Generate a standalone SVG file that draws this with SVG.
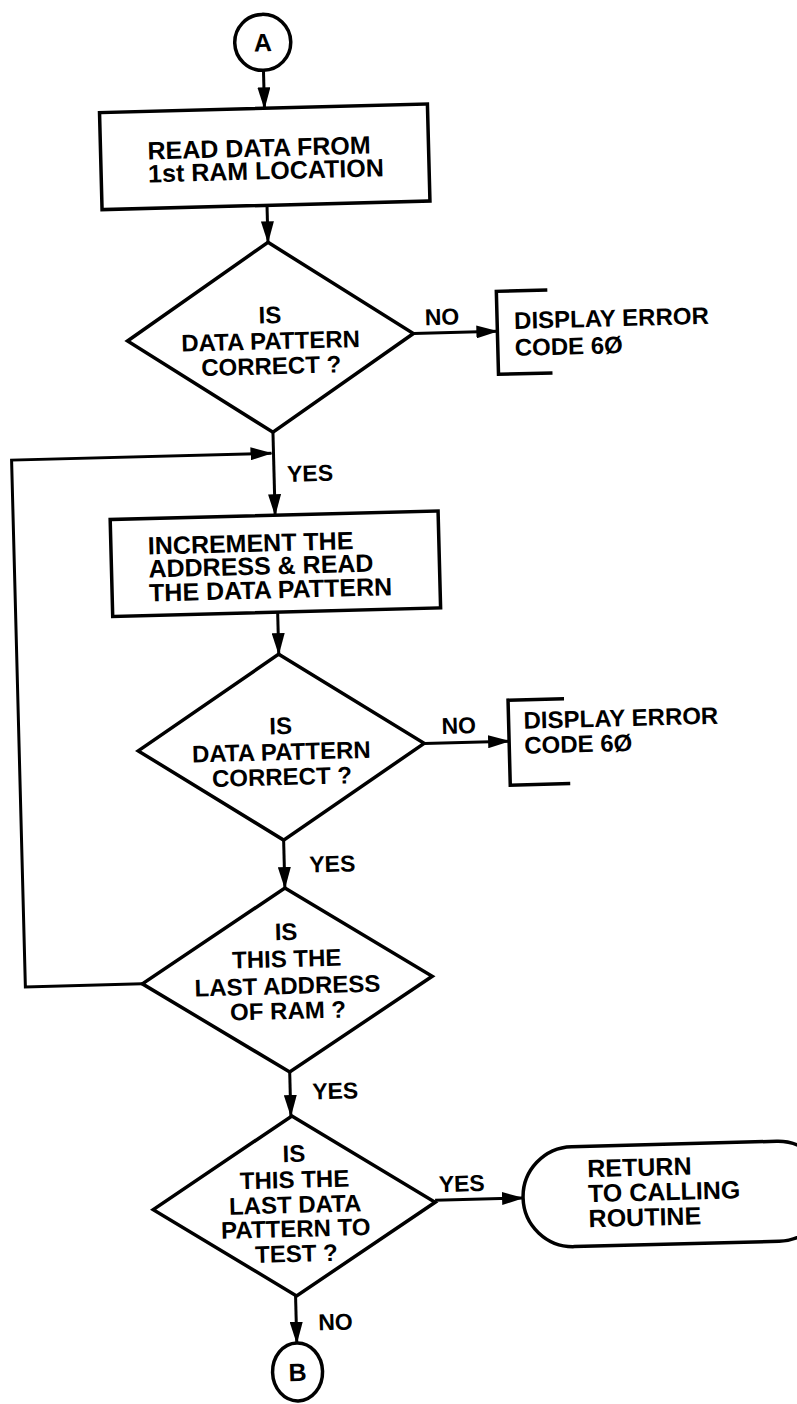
<svg xmlns="http://www.w3.org/2000/svg" width="797" height="1404" viewBox="0 0 797 1404">
<defs>
<style>
.s{fill:#fff;stroke:#000;stroke-width:3.5;stroke-linejoin:miter}
.b{fill:none;stroke:#000;stroke-width:3.5}
.c{fill:none;stroke:#000;stroke-width:3}
text{font-family:"Liberation Sans",Arial,Helvetica,sans-serif;font-weight:bold;fill:#000}
.t{font-size:25px}
.d{font-size:24px;text-anchor:middle}
.e{font-size:24px}
.m{text-anchor:middle}
.l{font-size:23px}
</style>
<marker id="ah" markerWidth="22" markerHeight="13" refX="21" refY="6.5" orient="auto" markerUnits="userSpaceOnUse"><path d="M0,0 L22,6.5 L0,13 z" fill="#000"/></marker>
</defs>
<rect width="797" height="1404" fill="#fff"/>
<g transform="rotate(-1.5 400 700)">
<g id="connectors">
<line class="c" x1="280" y1="67" x2="280" y2="105" marker-end="url(#ah)"/>
<line class="c" x1="280" y1="202" x2="280" y2="239" marker-end="url(#ah)"/>
<line class="c" x1="423" y1="334" x2="507" y2="334" marker-end="url(#ah)"/>
<line class="c" x1="280" y1="429" x2="280" y2="512" marker-end="url(#ah)"/>
<polyline class="c" points="135,977 18,977 18,450 278,450" marker-end="url(#ah)"/>
<line class="c" x1="280" y1="609" x2="280" y2="651" marker-end="url(#ah)"/>
<line class="c" x1="423" y1="744" x2="508" y2="744" marker-end="url(#ah)"/>
<line class="c" x1="280" y1="837" x2="280" y2="885" marker-end="url(#ah)"/>
<line class="c" x1="280" y1="1069" x2="280" y2="1113" marker-end="url(#ah)"/>
<line class="c" x1="422" y1="1201" x2="510" y2="1201" marker-end="url(#ah)"/>
<line class="c" x1="280" y1="1293" x2="280" y2="1340" marker-end="url(#ah)"/>
<text class="l m" x="452" y="326">NO</text>
<text class="l" x="293" y="479">YES</text>
<text class="l m" x="458" y="735">NO</text>
<text class="l" x="305" y="870">YES</text>
<text class="l" x="302" y="1097">YES</text>
<text class="l m" x="449" y="1193">YES</text>
<text class="l" x="302" y="1328">NO</text>
</g>
<g id="connA">
<circle class="s" cx="280" cy="39" r="28"/>
<text class="t m" x="280" y="48">A</text>
</g>
<g id="readFirst">
<rect class="s" x="115" y="105" width="328" height="97"/>
<text class="t" x="162" y="153">READ DATA FROM</text>
<text class="t" x="162" y="176">1st RAM LOCATION</text>
</g>
<g id="check1">
<polygon class="s" points="280,239 423,334 280,429 137,334"/>
<text class="d" x="280" y="320">IS</text>
<text class="d" x="280" y="346">DATA PATTERN</text>
<text class="d" x="280" y="371">CORRECT ?</text>
</g>
<g id="error1">
<path class="b" d="M558,294 L507,294 L507,377 L561,377"/>
<text class="e" x="524" y="332">DISPLAY ERROR</text>
<text class="e" x="524" y="359">CODE 6Ø</text>
</g>
<g id="increment">
<rect class="s" x="115" y="512" width="328" height="97"/>
<text class="t" x="152" y="548">INCREMENT THE</text>
<text class="t" x="152" y="571">ADDRESS &amp; READ</text>
<text class="t" x="152" y="595">THE DATA PATTERN</text>
</g>
<g id="check2">
<polygon class="s" points="280,651 423,744 280,837 137,744"/>
<text class="d" x="280" y="731">IS</text>
<text class="d" x="280" y="757">DATA PATTERN</text>
<text class="d" x="280" y="782">CORRECT ?</text>
</g>
<g id="error2">
<path class="b" d="M564,703 L508,703 L508,788 L568,788"/>
<text class="e" x="523" y="732">DISPLAY ERROR</text>
<text class="e" x="523" y="757">CODE 6Ø</text>
</g>
<g id="lastAddress">
<polygon class="s" points="280,885 425,977 280,1069 135,977"/>
<text class="d" x="280" y="937">IS</text>
<text class="d" x="280" y="964">THIS THE</text>
<text class="d" x="280" y="991">LAST ADDRESS</text>
<text class="d" x="280" y="1016">OF RAM ?</text>
</g>
<g id="lastPattern">
<polygon class="s" points="281,1113 422,1203 281,1293 140,1203"/>
<text class="d" x="282" y="1159">IS</text>
<text class="d" x="282" y="1185">THIS THE</text>
<text class="d" x="282" y="1210">LAST DATA</text>
<text class="d" x="282" y="1234">PATTERN TO</text>
<text class="d" x="282" y="1259">TEST ?</text>
</g>
<g id="return">
<rect class="s" x="510" y="1151" width="305" height="100" rx="50" ry="50"/>
<text class="t" x="575" y="1182">RETURN</text>
<text class="t" x="575" y="1207">TO CALLING</text>
<text class="t" x="575" y="1232">ROUTINE</text>
</g>
<g id="connB">
<ellipse class="s" cx="280" cy="1369" rx="25" ry="29"/>
<text class="t m" x="280" y="1378">B</text>
</g>
</g>
</svg>
